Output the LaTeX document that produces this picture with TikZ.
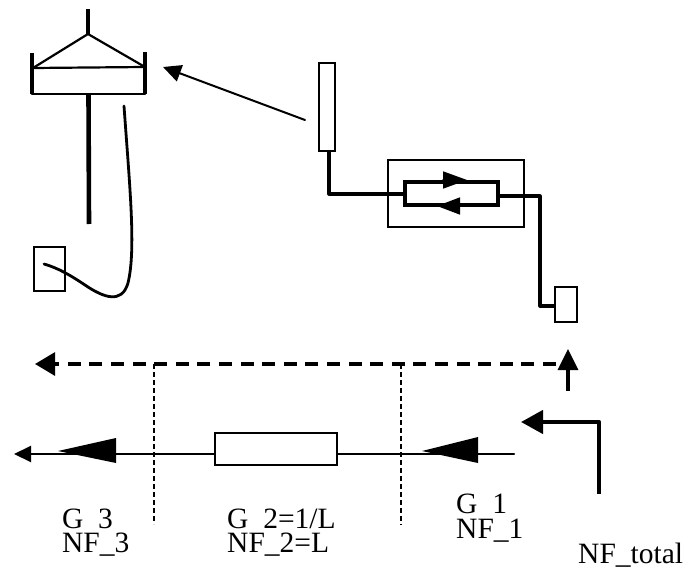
\documentclass[tikz,border=0pt]{standalone}
\usepackage{fontspec}
\setmainfont{Liberation Serif}
\usetikzlibrary{calc,arrows.meta,positioning}
\tikzset{
  px/.style={x=1pt,y=-1pt,>=Stealth,line join=round,line cap=round},
  block/.style={draw,line width=1.6pt,fill=white,inner sep=0pt,line join=miter},
  wire/.style={line width=3.2pt},
  heavy/.style={line width=4.6pt,line cap=butt},
  thinline/.style={line width=2pt},
  beam/.style={line width=3.2pt,dash pattern=on 13pt off 8.6pt,line cap=butt},
  cut/.style={line width=1.6pt,dash pattern=on 5pt off 3pt,line cap=butt},
  lab/.style={anchor=base west,inner sep=0pt,font=\fontsize{29.5}{29.5}\selectfont}
}
\begin{document}
\begin{tikzpicture}[px]
  \useasboundingbox (0,0) rectangle (687,572);
  \coordinate (mast) at (88,9);
  \coordinate (apex) at (88,34);
  \coordinate (rimL) at (33,68);
  \coordinate (rimR) at (145,67);
  \coordinate (wallLtop) at (32,53);
  \coordinate (wallLbot) at (32,94);
  \coordinate (wallRtop) at (145,52);
  \coordinate (wallRbot) at (145,94);
  \coordinate (poleTop) at (88.5,94);
  \coordinate (poleBot) at (89,224);
  \coordinate (cableTop) at (124,106);
  \coordinate (cableEnd) at (44,264);
  \coordinate (beamSrc) at (305,120);
  \coordinate (beamDst) at (163,67);

  \node[block,minimum width=31pt,minimum height=44pt] (horn) at (49.5,269) {};
  \node[block,minimum width=16pt,minimum height=88pt] (feed) at (327,107) {};
  \node[block,minimum width=136pt,minimum height=67pt] (isolbox) at (456,193.5) {};
  \node[block,line width=3.2pt,minimum width=93pt,minimum height=23pt] (isol) at (451.5,193.5) {};
  \node[block,minimum width=22pt,minimum height=35pt] (source) at (566,304.5) {};
  \node[block,line width=2.2pt,minimum width=122pt,minimum height=32pt] (atten) at (276,449) {};

  \draw[heavy] (mast)--(apex);
  \draw[line width=2.2pt] (rimL)--(apex)--(rimR);
  \draw[line width=2.2pt] (rimL)--(rimR);
  \draw[heavy] (wallLtop)--(wallLbot);
  \draw[heavy] (wallRtop)--(wallRbot);
  \draw[line width=2.4pt] (wallLbot)--(wallRbot);
  \draw[heavy] (poleTop)--(poleBot);
  \draw[line width=2.8pt] (cableTop) .. controls (130,190) and (136,250) .. (128,283)
    .. controls (122,304) and (104,298) .. (85,285)
    .. controls (70,275) and (58,268) .. (cableEnd);

  \draw[thinline,-{Triangle[length=18pt,width=17pt]}] (beamSrc)--(beamDst);

  \coordinate (feedLow) at (329,194);
  \coordinate (srcBend) at (540,196);
  \coordinate (srcLow) at (540,306);
  \draw[wire] (feed.south -| feedLow)--(feedLow)--(isol.west |- feedLow);
  \draw[wire] (isol.east |- srcBend)--(srcBend)--(srcLow)--(source.west |- srcLow);

  \coordinate (fwdBase) at (443,180);
  \coordinate (fwdTip) at (467,180);
  \coordinate (revBase) at (460,206);
  \coordinate (revTip) at (437,206);
  \draw[-{Triangle[length=24pt,width=17pt]},line width=1.5pt] (fwdBase)--(fwdTip);
  \draw[-{Triangle[length=23pt,width=17pt]},line width=1.5pt] (revBase)--(revTip);

  \coordinate (beamR) at (556,364);
  \coordinate (beamL) at (50,364);
  \coordinate (beamHead) at (35,364);
  \coordinate (cutA) at (154,364);
  \coordinate (cutAend) at (154,524);
  \coordinate (cutB) at (401,364);
  \coordinate (cutBend) at (401,525);
  \draw[beam] (beamR)--(beamL);
  \draw[-{Triangle[length=20pt,width=23pt]},line width=3pt] (beamL)--(beamHead);
  \draw[cut] (cutA)--(cutAend);
  \draw[cut] (cutB)--(cutBend);

  \coordinate (upFoot) at (568,391);
  \coordinate (upHead) at (568,349);
  \draw[-{Triangle[length=21pt,width=20pt]},line width=3.2pt,line cap=butt] (upFoot)--(upHead);

  \coordinate (mainIn) at (514,454);
  \coordinate (mainOut) at (14,454);
  \draw[line width=2pt] (mainIn)--(atten.east |- mainIn);
  \draw[line width=2pt,-{Triangle[length=17pt,width=16pt]}] (atten.west |- mainOut)--(mainOut);

  \coordinate (gainOneTop) at (478,437);
  \coordinate (gainOneTip) at (422,451);
  \coordinate (gainOneBot) at (478,463);
  \coordinate (gainThreeTop) at (116,438);
  \coordinate (gainThreeTip) at (58,451);
  \coordinate (gainThreeBot) at (116,463);
  \fill (gainOneTop)--(gainOneTip)--(gainOneBot)--cycle;
  \fill (gainThreeTop)--(gainThreeTip)--(gainThreeBot)--cycle;

  \coordinate (totalFoot) at (599,494);
  \coordinate (totalBend) at (599,422);
  \coordinate (totalHead) at (521,422);
  \draw[line width=4.4pt,line cap=butt,-{Triangle[length=22pt,width=23pt]}] (totalFoot)--(totalBend)--(totalHead);

  \node[lab] (gthree) at (62,528) {G\_3};
  \node[lab,fill=white,text height=23pt] (nfthree) at (62,552) {NF\_3};
  \node[lab] (gtwo) at (227,528) {G\_2=1/L};
  \node[lab,fill=white,text height=23pt] (nftwo) at (227,552) {NF\_2=L};
  \node[lab] (gone) at (456,513) {G\_1};
  \node[lab,fill=white,text height=24.5pt] (nfone) at (456,538) {NF\_1};
  \node[lab] (nftotal) at (578,563) {NF\_total};
\end{tikzpicture}
\end{document}
